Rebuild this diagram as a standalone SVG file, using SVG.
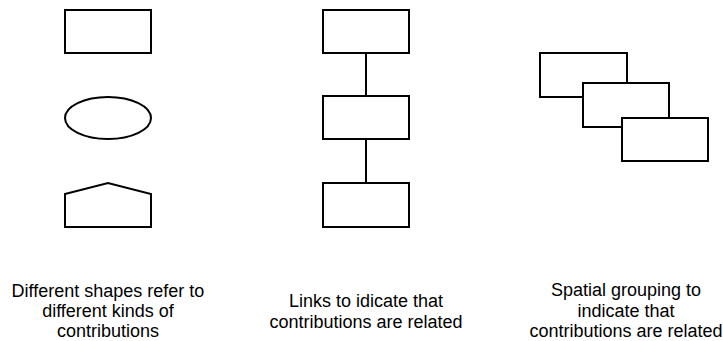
<svg xmlns="http://www.w3.org/2000/svg" width="723" height="341" viewBox="0 0 723 341">
<style>
.s{fill:#fff;stroke:#000;stroke-width:2}
.c{stroke:#000;stroke-width:2;fill:none}
text{font-family:"Liberation Sans",Arial,sans-serif;font-size:18px;fill:#000;text-anchor:middle}
</style>
<rect width="723" height="341" fill="#fff"/>
<g id="shape-rect"><rect class="s" x="65" y="10" width="86" height="43"/></g>
<g id="shape-ellipse"><ellipse class="s" cx="108" cy="118" rx="43" ry="21"/></g>
<g id="shape-pentagon"><polygon class="s" points="65,194 108,183 151,194 151,227 65,227"/></g>
<g id="connectors">
<line class="c" x1="366" y1="53" x2="366" y2="96"/>
<line class="c" x1="366" y1="139" x2="366" y2="183"/>
</g>
<g id="link-1"><rect class="s" x="323" y="10" width="86" height="43"/></g>
<g id="link-2"><rect class="s" x="323" y="96" width="86" height="43"/></g>
<g id="link-3"><rect class="s" x="323" y="183" width="86" height="44"/></g>
<g id="group-1"><rect class="s" x="540" y="53" width="87" height="44"/></g>
<g id="group-2"><rect class="s" x="583" y="83" width="86" height="44"/></g>
<g id="group-3"><rect class="s" x="622" y="118" width="86" height="43"/></g>
<g id="label-shapes">
<text x="108" y="297">Different shapes refer to</text>
<text x="108" y="317">different kinds of</text>
<text x="108" y="337">contributions</text>
</g>
<g id="label-links">
<text x="366" y="307">Links to idicate that</text>
<text x="366" y="328">contributions are related</text>
</g>
<g id="label-spatial">
<text x="626" y="296">Spatial grouping to</text>
<text x="626" y="317">indicate that</text>
<text x="626" y="337">contributions are related</text>
</g>
</svg>
